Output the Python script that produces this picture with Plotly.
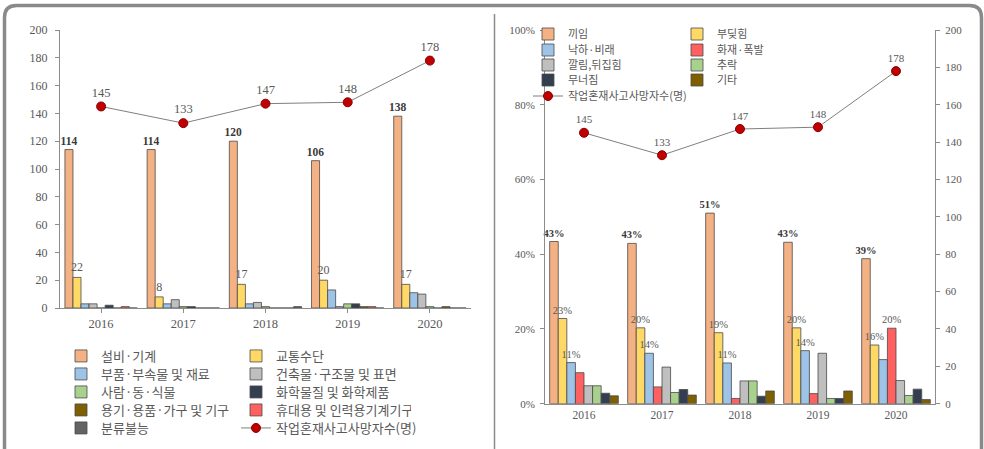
import plotly.graph_objects as go

W, H = 984, 449

years = ["2016", "2017", "2018", "2019", "2020"]
deaths = [145, 133, 147, 148, 178]
death_name = "작업혼재사고사망자수(명)"

# ---- left chart: deaths by causal object (count) ----
obj_names = ["설비·기계", "교통수단", "부품·부속물 및 재료", "건축물·구조물 및 표면",
             "사람·동·식물", "화학물질 및 화학제품", "용기·용품·가구 및 기구",
             "휴대용 및 인력용기계기구", "분류불능"]
obj_machine = [114, 114, 120, 106, 138]
obj_transport = [22, 8, 17, 20, 17]
obj_parts = [3, 3, 3, 13, 11]
obj_building = [3, 6, 4, 1, 10]
obj_living = [0, 1, 1, 3, 1]
obj_chemical = [2, 1, 0, 3, 0]
obj_container = [0, 0, 0, 1, 1]
obj_portable = [1, 0, 0, 1, 0]
obj_unknown = [0, 0, 1, 0, 0]

# ---- right chart: deaths by accident type (share, %) ----
type_names = ["끼임", "부딪힘", "낙하·비래", "화재·폭발", "깔림,뒤집힘", "추락", "무너짐", "기타"]
type_caught = [43.4, 42.9, 51.0, 43.2, 38.8]
type_struck = [22.8, 20.3, 19.0, 20.3, 15.7]
type_falling_obj = [11.0, 13.5, 10.9, 14.2, 11.8]
type_fire = [8.3, 4.5, 1.4, 2.7, 20.2]
type_overturn = [4.8, 9.8, 6.1, 13.5, 6.2]
type_fall = [4.8, 3.0, 6.1, 1.4, 2.2]
type_collapse = [2.8, 3.8, 2.0, 1.4, 3.9]
type_other = [2.1, 2.3, 3.4, 3.4, 1.1]

lab_caught = ["43%", "43%", "51%", "43%", "39%"]
lab_struck = ["23%", "20%", "19%", "20%", "16%"]
lab_falling_obj = ["11%", "14%", "11%", "14%", ""]
lab_fire = ["", "", "", "", "20%"]

C_OR, C_YE, C_BL, C_GR = "#F4B183", "#FFD966", "#9DC3E6", "#BFBFBF"
C_GN, C_NV, C_BR, C_RD, C_DG = "#A9D18E", "#333F50", "#7F6000", "#FF6161", "#636363"

SERIF = "Liberation Serif"
KR = "Noto Sans CJK KR"
TXT = "#595959"
AX = "#8C8C8C"


def px(x):
    return x / W


def py(y):
    return 1 - y / H


fig = go.Figure()

left_series = [obj_machine, obj_transport, obj_parts, obj_building, obj_living,
               obj_chemical, obj_container, obj_portable, obj_unknown]
left_colors = [C_OR, C_YE, C_BL, C_GR, C_GN, C_NV, C_BR, C_RD, C_DG]
left_legend = ["legend", "legend", "legend2", "legend2", "legend3", "legend3",
               "legend4", "legend4", "legend5"]
for i, (name, vals, col, lg) in enumerate(zip(obj_names, left_series, left_colors, left_legend)):
    kw = {}
    if i == 0:
        kw = dict(text=[str(v) for v in vals], textposition="outside",
                  textfont=dict(family=SERIF, size=11.5, color="#3A3A3A", weight="bold"))
    elif i == 1:
        kw = dict(text=[str(v) for v in vals], textposition="outside",
                  textfont=dict(family=SERIF, size=12, color=TXT))
    fig.add_trace(go.Bar(x=years, y=vals, name=name, marker_color=col,
                         marker_line=dict(color="#4A4A4A", width=0.8),
                         xaxis="x", yaxis="y", legend=lg, cliponaxis=False,
                         constraintext="none", textangle=0, **kw))

fig.add_trace(go.Scatter(x=years, y=deaths, name=death_name, mode="lines+markers+text",
                         text=[str(v) for v in deaths], textposition="top center",
                         textfont=dict(family=SERIF, size=12.5, color=TXT),
                         line=dict(color="#7F7F7F", width=1),
                         marker=dict(color="#C00000", size=9, line=dict(color="#8B0000", width=1)),
                         xaxis="x", yaxis="y", legend="legend5", legendwidth=170,
                         cliponaxis=False))

right_series = [type_caught, type_struck, type_falling_obj, type_fire, type_overturn,
                type_fall, type_collapse, type_other]
right_colors = [C_OR, C_YE, C_BL, C_RD, C_GR, C_GN, C_NV, C_BR]
right_legend = ["legend6", "legend6", "legend7", "legend7", "legend8", "legend8",
                "legend9", "legend9"]
right_labels = [lab_caught, lab_struck, lab_falling_obj, lab_fire, None, None, None, None]
for i, (name, vals, col, lg, lab) in enumerate(zip(type_names, right_series, right_colors,
                                                   right_legend, right_labels)):
    kw = {}
    if lab is not None:
        if i == 0:
            tf = dict(family=SERIF, size=10.5, color="#3A3A3A", weight="bold")
        else:
            tf = dict(family=SERIF, size=10.5, color=TXT)
        kw = dict(text=lab, textposition="outside", textfont=tf)
    fig.add_trace(go.Bar(x=years, y=vals, name=name, marker_color=col,
                         marker_line=dict(color="#4A4A4A", width=0.8),
                         xaxis="x2", yaxis="y2", legend=lg, cliponaxis=False,
                         constraintext="none", textangle=0, **kw))

fig.add_trace(go.Scatter(x=years, y=deaths, name=death_name, mode="lines+markers+text",
                         text=[str(v) for v in deaths], textposition="top center",
                         textfont=dict(family=SERIF, size=11, color=TXT),
                         line=dict(color="#7F7F7F", width=1),
                         marker=dict(color="#C00000", size=9, line=dict(color="#8B0000", width=1)),
                         xaxis="x2", yaxis="y3", legend="legend10", legendwidth=170,
                         cliponaxis=False))

axis_common = dict(showgrid=False, zeroline=False, showline=True, linecolor=AX, linewidth=1,
                   tickcolor=AX, ticklen=4, fixedrange=True, automargin=False)

layout = dict(
    width=W, height=H, margin=dict(l=0, r=0, t=0, b=0, autoexpand=False),
    paper_bgcolor="white", plot_bgcolor="rgba(0,0,0,0)",
    barmode="group", bargap=0.12, bargroupgap=0,
    showlegend=True,
    xaxis=dict(domain=[px(60), px(471)], anchor="y", type="category", ticks="outside",
               tickfont=dict(family=SERIF, size=12.5, color=TXT), **axis_common),
    yaxis=dict(domain=[py(308), py(30)], anchor="x", range=[0, 200], dtick=20, ticks="outside",
               ticklabelstandoff=5,
               tickfont=dict(family=SERIF, size=12, color=TXT), **axis_common),
    xaxis2=dict(domain=[px(545), px(935)], anchor="y2", type="category", ticks="",
                tickfont=dict(family=SERIF, size=11.5, color=TXT), **axis_common),
    yaxis2=dict(domain=[py(403.7), py(30)], anchor="x2", range=[0, 100], dtick=20,
                ticksuffix="%", ticks="outside", ticklabelstandoff=3,
                tickfont=dict(family=SERIF, size=11, color=TXT), **axis_common),
    yaxis3=dict(overlaying="y2", anchor="x2", side="right", range=[0, 200], dtick=20,
                ticks="outside", ticklabelstandoff=3,
                tickfont=dict(family=SERIF, size=11, color=TXT), **axis_common),
)

# legends: one horizontal legend per row, two entries per row
left_rows_y = [356, 374, 392, 410, 428]
right_rows_y = [34, 50, 65, 80, 96]
for k, yy in enumerate(left_rows_y):
    key = "legend" if k == 0 else f"legend{k + 1}"
    layout[key] = dict(orientation="h", x=px(101 - 40), y=py(yy), xanchor="left",
                       yanchor="middle", entrywidth=130, entrywidthmode="pixels",
                       bgcolor="rgba(0,0,0,0)", borderwidth=0,
                       font=dict(family=KR, size=13, color=TXT), traceorder="normal")
for k, yy in enumerate(right_rows_y):
    key = f"legend{k + 6}"
    layout[key] = dict(orientation="h", x=px(568 - 40), y=py(yy), xanchor="left",
                       yanchor="middle", entrywidth=104,
                       entrywidthmode="pixels",
                       bgcolor="rgba(0,0,0,0)", borderwidth=0,
                       font=dict(family=KR, size=11, color=TXT), traceorder="normal")

# frame and divider
r = 12
L, R, T, B = 4.5, 981.5, 5.5, 470
frame = (f"M {px(L)},{py(B)} L {px(L)},{py(T + r)} Q {px(L)},{py(T)} {px(L + r)},{py(T)} "
         f"L {px(R - r)},{py(T)} Q {px(R)},{py(T)} {px(R)},{py(T + r)} L {px(R)},{py(B)}")
layout["shapes"] = [
    dict(type="path", xref="paper", yref="paper", path=frame,
         line=dict(color="#8A8A8A", width=3.5)),
    dict(type="line", xref="paper", yref="paper", x0=px(494.5), x1=px(494.5),
         y0=py(14), y1=py(460), line=dict(color="#8A8A8A", width=1.5)),
]

fig.update_layout(**layout)
fig.write_html(
    "out.html",
    config={"displayModeBar": False},
    post_script="document.body.style.margin='0';document.body.style.overflow='hidden';",
)
